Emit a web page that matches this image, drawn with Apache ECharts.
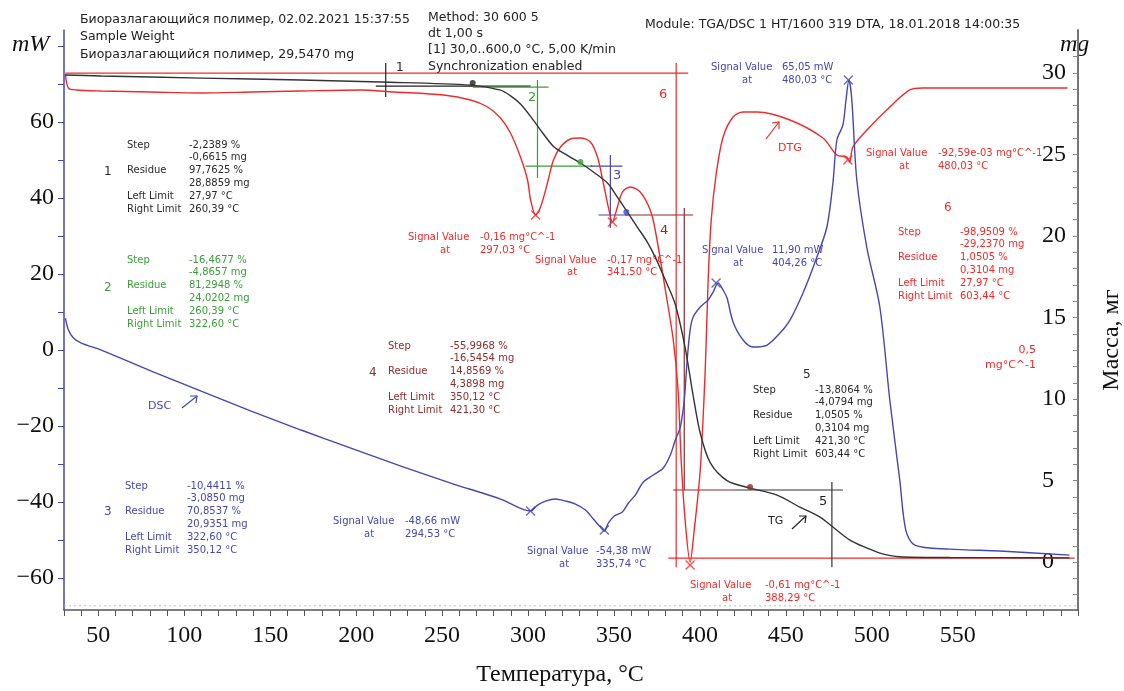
<!DOCTYPE html>
<html><head><meta charset="utf-8">
<script src="https://cdn.jsdelivr.net/npm/echarts@6/dist/echarts.min.js"></script>
<style>html,body{margin:0;padding:0;background:#fff}#c{width:1124px;height:691px}</style>
</head><body><div id="c"></div>
<script>
// ---- TG (mass, mg) ----
const tgT = [30.8,51.7,109.8,167.9,214.3,266.6,284.0,289.8,295.6,303.2,307.3,314.8,322.9,330.5,338.0,346.2,352.0,357.8,363.6,369.4,374.0,379.9,385.7,391.5,396.1,400.2,406.0,415.8,429.2,444.9,458.2,469.9,477.4,487.3,497.2,504.7,516.3,545.3,574.4,615.0];
const tgMass = [29.88,29.82,29.69,29.57,29.45,29.26,28.95,28.6,28.1,27.1,26.5,25.5,24.95,24.48,23.93,23.25,22.39,21.47,20.55,19.63,18.71,17.3,15.8,13.1,10.2,7.9,6.1,5.0,4.54,4.11,3.37,2.76,2.15,1.35,0.86,0.55,0.33,0.28,0.27,0.26];
// ---- DSC (heat flow, mW) ----
const dscT = [30.8,32.6,35.5,40.1,51.7,80.8,109.8,138.9,167.9,196.9,226.0,255.0,284.0,301.5,305.5,310.2,316.0,321.8,327.6,333.4,338.0,342.1,344.4,346.7,350.2,354.9,358.4,362.4,367.1,372.9,378.7,382.8,385.7,388.6,390.9,392.6,394.3,396.1,400.2,404.8,407.7,410.6,413.5,415.8,419.3,425.1,430.9,439.1,446.6,452.4,460.0,468.1,473.9,477.4,479.7,483.2,485.0,486.7,488.4,491.3,497.2,504.7,510.5,516.3,519.8,525.0,545.3,574.4,615.0];
const dscPower = [8.42,5.26,3.16,1.84,0,-5.53,-10.79,-16.05,-21.05,-25.79,-30.53,-35.0,-39.21,-42.37,-40.79,-39.74,-39.21,-39.74,-40.53,-42.11,-44.47,-46.58,-47.63,-45.53,-43.68,-42.63,-40.26,-38.16,-34.74,-32.89,-31.05,-27.63,-23.68,-20.26,-13.16,-2.63,5.26,8.68,11.32,13.16,15.26,17.63,15.79,13.68,7.37,2.63,0.79,1.32,4.47,7.89,15.0,24.47,32.37,43.95,55.26,59.21,65.79,71.05,65.79,44.74,26.84,11.32,-13.16,-34.21,-47.37,-51.32,-52.37,-52.89,-53.95];
// ---- DTG (mg/°C) ----
const dtgT = [30.8,32.6,37.2,51.7,80.8,109.8,138.9,167.9,202.7,221.9,250.9,266.6,276.5,284.0,289.8,295.6,299.7,301.5,304.4,307.3,311.3,314.8,318.9,324.7,330.5,336.3,340.4,343.8,346.7,349.1,352.0,354.9,359.5,365.3,371.1,374.0,379.9,384.5,387.3,389.1,391.4,394.3,396.7,400.2,403.1,404.8,406.6,409.4,413.5,419.3,425.1,433.3,452.4,471.6,479.7,485.5,487.2,489.0,497.2,510.5,522.1,529.7,574.4,613.9];
const dtgRate = [0.0213,0.0033,0.0008,-0.0005,-0.0018,-0.0031,-0.0018,-0.0005,0.0008,-0.0018,-0.0057,-0.0121,-0.0211,-0.0352,-0.0545,-0.0854,-0.1149,-0.1406,-0.1599,-0.1496,-0.1188,-0.0892,-0.0725,-0.0622,-0.0609,-0.0661,-0.0854,-0.1188,-0.1496,-0.1689,-0.1496,-0.1304,-0.1239,-0.1304,-0.1535,-0.1792,-0.2563,-0.3206,-0.3849,-0.4749,-0.5520,-0.6060,-0.5649,-0.4877,-0.3592,-0.2435,-0.1663,-0.1085,-0.0597,-0.0339,-0.0275,-0.0275,-0.0378,-0.0609,-0.0828,-0.0854,-0.0918,-0.0725,-0.0506,-0.0211,0.0008,0.0033,0.0033,0.0033];
// ---- tick labels ----
const tempLabels = [50,100,150,200,250,300,350,400,450,500,550];
const powerLabels = [-60,-40,-20,0,20,40,60];
const powerTicks = [-60,-50,-40,-30,-20,-10,0,10,20,30,40,50,60,70,80];
const massLabels = [0,5,10,15,20,25,30];
const massTicks = [-2,-1,0,1,2,3,4,5,6,7,8,9,10,11,12,13,14,15,16,17,18,19,20,21,22,23,24,25,26,27,28,29,30,31,32];
// ---- step-evaluation construction lines (T, mg) ----
const step1Lines = [[[211.4,29.2],[301.5,29.2]],[[217.2,30.61],[217.2,28.53]]];
const step2Lines = [[[267.8,29.14],[311.9,29.14]],[[305.5,29.57],[305.5,23.56]],[[298.5,24.29],[337.5,24.29]]];
const step3Lines = [[[336.3,24.29],[354.9,24.29]],[[347.9,24.97],[347.9,20.49]],[[341.0,21.29],[358.4,21.29]]];
const step4Lines = [[[356.6,21.29],[396.1,21.29]],[[390.9,21.72],[390.9,4.42]],[[384.5,4.42],[420.0,4.42]]];
const step5Lines = [[[420.0,4.42],[483.2,4.42]],[[476.8,4.91],[476.8,-0.31]]];
const step6Lines = [[[30.8,30.0],[393.2,30.0]],[[386.2,30.61],[386.2,-0.31]],[[381.6,0.245],[618,0.245]]];
const stepMarkersT = [267.8,330.5,357.2,429.2];
const stepMarkersMass = [29.39,24.54,21.47,4.6];
// ---- original instrument baseline (mW) ----
const baseT = [30,620];
const basePower = [-67.3,-67.3];
// ---- evaluated signal points ----
const dscPeaksT = [301.5,344.4,409.4,486.4];
const dscPeaksV = [-42.37,-47.37,17.63,71.05];
const dtgPeaksT = [304.4,349.1,394.3,486.1];
const dtgPeaksV = [-0.1599,-0.1689,-0.6099,-0.0892];

const BLUE='#4646b4', RED='#f02a2a', GREEN='#3a9e3a', BROWN='#8e2b2b', DARK='#333333';
const XSYM='path://M0,1L1,0L5,4L9,0L10,1L6,5L10,9L9,10L5,6L1,10L0,9L4,5Z';
const zip=(a,b)=>a.map((v,i)=>[v,b[i]]);

function segSeries(lines,color,w){
  const d=[];lines.forEach((s,i)=>{if(i)d.push([null,null]);d.push(s[0],s[1]);});
  return {type:'line',xAxisIndex:0,yAxisIndex:1,data:d,symbol:'none',connectNulls:false,silent:true,
    lineStyle:{color:color,width:w||1.2},z:3,animation:false};
}

const chart=echarts.init(document.getElementById('c'),null,{renderer:'canvas'});
const SMALL='10px "DejaVu Sans"';
const HEAD='12.5px "DejaVu Sans"';
function T(x,y,text,color,font,align){return {type:'text',x:x,y:y,silent:true,style:{text:text,fill:color,font:font||SMALL,textAlign:align||'left',textVerticalAlign:'middle'}};}
function block(x0,ys,num,numX,numY,color,lines){
  const xv=x0+62;
  const g=[T(numX,numY,num,color,'12px "DejaVu Sans"')];
  lines.forEach((l,i)=>{ if(l[0]) g.push(T(x0,ys+i*12.9,l[0],color)); g.push(T(xv,ys+i*12.9,l[1],color)); });
  return g;
}
const graphics=[].concat(
  [T(80,20,'Биоразлагающийся полимер, 02.02.2021 15:37:55','#222',HEAD),
   T(80,37,'Sample Weight','#222',HEAD),
   T(80,55,'Биоразлагающийся полимер, 29,5470 mg','#222',HEAD),
   T(428,18,'Method: 30 600 5','#222',HEAD),
   T(428,34,'dt 1,00 s','#222',HEAD),
   T(428,50,'[1] 30,0..600,0 °C, 5,00 K/min','#222',HEAD),
   T(428,67,'Synchronization enabled','#222',HEAD),
   T(645,25,'Module: TGA/DSC 1 HT/1600 319 DTA, 18.01.2018 14:00:35','#222',HEAD),
   T(12,45,'mW','#111','italic 24px "Liberation Serif"'),
   T(1060,45,'mg','#111','italic 24px "Liberation Serif"'),
   {type:'text',x:1112,y:340,rotation:Math.PI/2,silent:true,style:{text:'Масса, мг',fill:'#111',font:'24px "Liberation Serif"',textAlign:'center',textVerticalAlign:'middle'}},
   T(560,675,'Температура, °C','#111','24px "Liberation Serif"','center'),
   T(396,68,'1','#222','12px "DejaVu Sans"'),
   T(528,98,'2',GREEN,'13px "DejaVu Sans"'),
   T(613,176,'3',BLUE,'13px "DejaVu Sans"'),
   T(660,231,'4',BROWN,'13px "DejaVu Sans"'),
   T(819,502,'5','#222','13px "DejaVu Sans"'),
   T(659,95,'6',RED,'13px "DejaVu Sans"'),
   T(1036,350,'0,5',RED,'11px "DejaVu Sans"','right'),
   T(1036,365,'mg°C^-1',RED,'11px "DejaVu Sans"','right'),
   T(148,406,'DSC',BLUE,'11px "DejaVu Sans"'),
   T(778,148,'DTG',RED,'11px "DejaVu Sans"'),
   T(768,521,'TG','#222','11px "DejaVu Sans"'),
   // signal value labels
   T(711,67,'Signal Value',BLUE),T(782,67,'65,05 mW',BLUE),T(742,80,'at',BLUE),T(782,80,'480,03 °C',BLUE),
   T(866,153,'Signal Value',RED),T(938,153,'-92,59e-03 mg°C^-1',RED),T(899,166,'at',RED),T(938,166,'480,03 °C',RED),
   T(408,237,'Signal Value',RED),T(480,237,'-0,16 mg°C^-1',RED),T(440,250,'at',RED),T(480,250,'297,03 °C',RED),
   T(535,260,'Signal Value',RED),T(607,260,'-0,17 mg°C^-1',RED),T(567,272,'at',RED),T(607,272,'341,50 °C',RED),
   T(702,250,'Signal Value',BLUE),T(772,250,'11,90 mW',BLUE),T(733,263,'at',BLUE),T(772,263,'404,26 °C',BLUE),
   T(333,521,'Signal Value',BLUE),T(405,521,'-48,66 mW',BLUE),T(364,534,'at',BLUE),T(405,534,'294,53 °C',BLUE),
   T(527,551,'Signal Value',BLUE),T(596,551,'-54,38 mW',BLUE),T(559,564,'at',BLUE),T(596,564,'335,74 °C',BLUE),
   T(690,585,'Signal Value',RED),T(765,585,'-0,61 mg°C^-1',RED),T(722,598,'at',RED),T(765,598,'388,29 °C',RED)
  ],
  block(127,145,'1',104,172,'#2a2a2a',[['Step','-2,2389 %'],['','-0,6615 mg'],['Residue','97,7625 %'],['','28,8859 mg'],['Left Limit','27,97 °C'],['Right Limit','260,39 °C']]),
  block(127,260,'2',104,288,GREEN,[['Step','-16,4677 %'],['','-4,8657 mg'],['Residue','81,2948 %'],['','24,0202 mg'],['Left Limit','260,39 °C'],['Right Limit','322,60 °C']]),
  block(125,486,'3',104,512,BLUE,[['Step','-10,4411 %'],['','-3,0850 mg'],['Residue','70,8537 %'],['','20,9351 mg'],['Left Limit','322,60 °C'],['Right Limit','350,12 °C']]),
  block(388,346,'4',369,373,BROWN,[['Step','-55,9968 %'],['','-16,5454 mg'],['Residue','14,8569 %'],['','4,3898 mg'],['Left Limit','350,12 °C'],['Right Limit','421,30 °C']]),
  block(753,390,'5',803,375,'#2a2a2a',[['Step','-13,8064 %'],['','-4,0794 mg'],['Residue','1,0505 %'],['','0,3104 mg'],['Left Limit','421,30 °C'],['Right Limit','603,44 °C']]),
  block(898,232,'6',944,208,RED,[['Step','-98,9509 %'],['','-29,2370 mg'],['Residue','1,0505 %'],['','0,3104 mg'],['Left Limit','27,97 °C'],['Right Limit','603,44 °C']]),
  [
   {type:'polyline',silent:true,shape:{points:[[182,408],[197,396]]},style:{stroke:BLUE,lineWidth:1.2,fill:null}},
   {type:'polyline',silent:true,shape:{points:[[190,396],[197,396],[196,403]]},style:{stroke:BLUE,lineWidth:1.2,fill:null}},
   {type:'polyline',silent:true,shape:{points:[[766,139],[779,122]]},style:{stroke:RED,lineWidth:1.2,fill:null}},
   {type:'polyline',silent:true,shape:{points:[[772,123],[779,122],[779,129]]},style:{stroke:RED,lineWidth:1.2,fill:null}},
   {type:'polyline',silent:true,shape:{points:[[792,529],[806,516]]},style:{stroke:'#222',lineWidth:1.2,fill:null}},
   {type:'polyline',silent:true,shape:{points:[[799,516],[806,516],[805,523]]},style:{stroke:'#222',lineWidth:1.2,fill:null}}
  ]
);

const serifLab={fontFamily:'Liberation Serif',fontSize:24,color:'#111'};
chart.setOption({
  animation:false,
  backgroundColor:'#fff',
  grid:{left:64,right:46,top:30,bottom:81,containLabel:false},
  xAxis:{type:'value',min:30,max:620,interval:10,
    axisLine:{show:true,onZero:false,lineStyle:{color:'#555',width:1.5}},
    axisTick:{show:true,length:6,lineStyle:{color:'#555'}},
    axisLabel:Object.assign({margin:14,formatter:v=>tempLabels.indexOf(v)>=0?String(v):''},serifLab),
    splitLine:{show:false}},
  yAxis:[
    {type:'value',position:'left',min:-68.4,max:84.2,
     axisLine:{show:true,onZero:false,lineStyle:{color:BLUE,width:1.5}},
     axisTick:{show:true,length:6,customValues:powerTicks,lineStyle:{color:BLUE}},
     axisLabel:Object.assign({margin:10,customValues:powerLabels,formatter:v=>String(v).replace('-','\u2212')},serifLab),
     splitLine:{show:false}},
    {type:'value',position:'right',min:-2.94,max:32.64,
     axisLine:{show:true,onZero:false,lineStyle:{color:'#777',width:2}},
     axisTick:{show:true,inside:true,length:5,customValues:massTicks,lineStyle:{color:'#888'}},
     axisLabel:Object.assign({inside:true,margin:36,align:'left',customValues:massLabels},serifLab),
     splitLine:{show:false}},
    {type:'value',show:false,min:-0.6677,max:0.0779,splitLine:{show:false}}
  ],
  series:[
    {type:'line',yAxisIndex:0,data:zip(baseT,basePower),symbol:'none',silent:true,lineStyle:{color:'#bbb',width:1,type:[2,3]},z:1},
    segSeries(step6Lines,RED,1.2),
    segSeries(step1Lines,'#222',1.2),
    segSeries(step2Lines,GREEN,1.2),
    segSeries(step3Lines,BLUE,1.2),
    segSeries(step4Lines,BROWN,1.2),
    segSeries(step5Lines,'#333',1.2),
    {name:'DTG',type:'line',yAxisIndex:2,data:zip(dtgT,dtgRate),symbol:'none',smooth:0.3,lineStyle:{color:RED,width:1.4},z:4},
    {name:'DSC',type:'line',yAxisIndex:0,data:zip(dscT,dscPower),symbol:'none',smooth:0.3,lineStyle:{color:BLUE,width:1.4},z:4},
    {name:'TG',type:'line',yAxisIndex:1,data:zip(tgT,tgMass),symbol:'none',smooth:0.3,lineStyle:{color:DARK,width:1.4},z:5},
    {type:'scatter',yAxisIndex:1,data:zip(stepMarkersT,stepMarkersMass),symbol:'circle',symbolSize:6,
      itemStyle:{color:p=>['#222',GREEN,BLUE,BROWN][p.dataIndex]},z:6},
    {type:'scatter',yAxisIndex:0,data:zip(dscPeaksT,dscPeaksV),symbol:XSYM,symbolSize:10,itemStyle:{color:BLUE},z:6},
    {type:'scatter',yAxisIndex:2,data:zip(dtgPeaksT,dtgPeaksV),symbol:XSYM,symbolSize:10,itemStyle:{color:RED},z:6}
  ],
  graphic:graphics
});
</script></body></html>
